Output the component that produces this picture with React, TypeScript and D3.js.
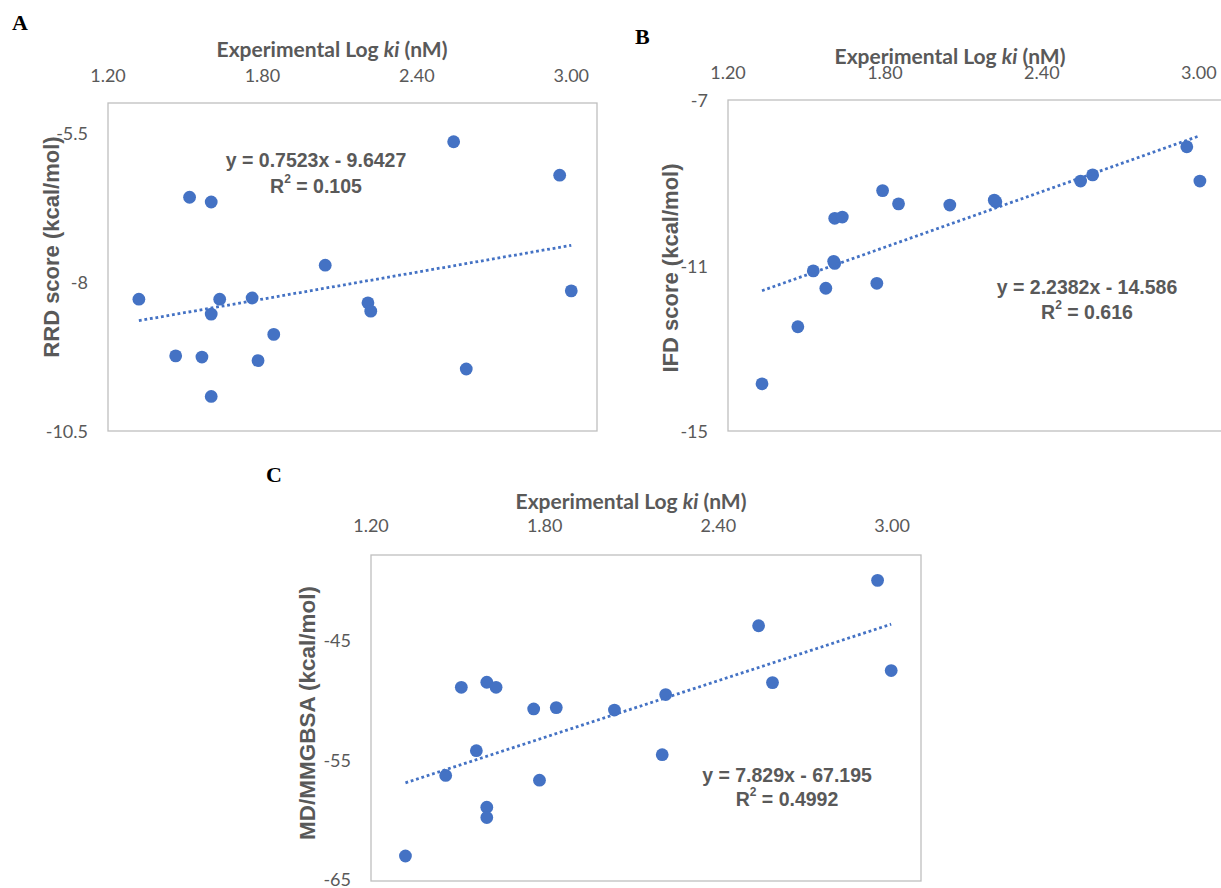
import React from 'react';
import * as d3 from 'd3';

// x values (Experimental Log ki, nM) read per panel
const xTicks = [1.2, 1.8, 2.4, 3.0];

const rrdX = [1.32, 1.463, 1.517, 1.565, 1.601, 1.601, 1.601, 1.634, 1.76, 1.783, 1.844, 2.044, 2.21, 2.221, 2.543, 2.592, 2.955, 3.0];
const rrdY = [-8.29, -9.24, -6.58, -9.26, -6.66, -8.54, -9.92, -8.29, -8.27, -9.32, -8.88, -7.72, -8.35, -8.49, -5.65, -9.46, -6.21, -8.15];
const rrdTicks = [-10.5, -8, -5.5];
const rrdFit = [0.7523, -9.6427];

const ifdX = [1.33, 1.467, 1.526, 1.574, 1.608, 1.608, 1.604, 1.637, 1.769, 1.791, 1.852, 2.048, 2.218, 2.224, 2.548, 2.594, 2.954, 3.004];
const ifdY = [-13.86, -12.48, -11.13, -11.55, -9.86, -10.95, -10.9, -9.83, -11.43, -9.19, -9.51, -9.54, -9.42, -9.46, -8.96, -8.81, -8.13, -8.96];
const ifdTicks = [-15, -11, -7];
const ifdFit = [2.2382, -14.586];

const mdX = [1.319, 1.458, 1.512, 1.564, 1.6, 1.6, 1.6, 1.632, 1.762, 1.782, 1.84, 2.041, 2.206, 2.218, 2.539, 2.587, 2.95, 2.997];
const mdY = [-62.93, -56.26, -48.96, -54.21, -48.54, -58.89, -59.74, -48.96, -50.75, -56.65, -50.64, -50.84, -54.54, -49.56, -43.86, -48.57, -40.1, -47.57];
const mdTicks = [-65, -55, -45];
const mdFit = [7.829, -67.195];

const BLUE = '#4472C4';
const GRAY = '#595959';
const tickFont = 'Lato, "Open Sans", sans-serif';
const labelFont = '"Liberation Sans", Arial, sans-serif';

const panels = [
  {
    letter: 'A', letterX: 12, letterY: 30,
    left: 108, right: 597, top: 103, bottom: 431,
    yDomain: [-10.5, -5], yTicks: rrdTicks, xs: rrdX, ys: rrdY, fit: rrdFit,
    eq: 'y = 0.7523x - 9.6427', r2: '0.105', eqX: 316, eqY: 160, r2Y: 186,
    yLabel: 'RRD score (kcal/mol)', yLabelX: 51, yLabelY: 247, yLabelSize: 22,
    titleX: 332, titleY: 48, tickY: 75,
  },
  {
    letter: 'B', letterX: 635, letterY: 44,
    left: 728, right: 1225, top: 100, bottom: 431,
    yDomain: [-15, -7], yTicks: ifdTicks, xs: ifdX, ys: ifdY, fit: ifdFit,
    eq: 'y = 2.2382x - 14.586', r2: '0.616', eqX: 1087, eqY: 287, r2Y: 312,
    yLabel: 'IFD score (kcal/mol)', yLabelX: 670, yLabelY: 268, yLabelSize: 22,
    titleX: 950, titleY: 55, tickY: 72,
  },
  {
    letter: 'C', letterX: 266, letterY: 482,
    left: 371, right: 921, top: 555, bottom: 881,
    yDomain: [-65, -38], yTicks: mdTicks, xs: mdX, ys: mdY, fit: mdFit,
    eq: 'y = 7.829x - 67.195', r2: '0.4992', eqX: 787, eqY: 775, r2Y: 799,
    yLabel: 'MD/MMGBSA (kcal/mol)', yLabelX: 307, yLabelY: 713, yLabelSize: 22.5,
    titleX: 631, titleY: 500, tickY: 525,
  },
];

const Panel = ({ p }: { p: any }) => {
  const x = d3.scaleLinear().domain([1.2, 3.1]).range([p.left, p.right]);
  const y = d3.scaleLinear().domain(p.yDomain).range([p.bottom, p.top]);
  const x0 = d3.min(p.xs) as number;
  const x1 = d3.max(p.xs) as number;
  const fitLine = d3.line<number>()
    .x(d => x(d))
    .y(d => y(p.fit[0] * d + p.fit[1]));

  return (
    <g>
      <text x={p.letterX} y={p.letterY} fontFamily='"Liberation Serif", "Times New Roman", serif'
        fontWeight="bold" fontSize={22} fill="#000">{p.letter}</text>

      <text x={p.titleX} y={p.titleY} textAnchor="middle" dominantBaseline="central"
        fontFamily={tickFont} fontWeight="bold" fontSize={21} fill={GRAY}>
        Experimental Log <tspan fontStyle="italic">ki</tspan> (nM)
      </text>

      {xTicks.map(t => (
        <text key={t} x={x(t)} y={p.tickY} textAnchor="middle" dominantBaseline="central"
          fontFamily={tickFont} fontSize={18} fill={GRAY}>{d3.format('.2f')(t)}</text>
      ))}

      {p.yTicks.map((t: number) => (
        <text key={t} x={p.left - 20} y={Math.min(y(t), 879)} textAnchor="end" dominantBaseline="central"
          fontFamily={tickFont} fontSize={18} fill={GRAY}>{t}</text>
      ))}

      <rect x={p.left} y={p.top} width={p.right - p.left} height={p.bottom - p.top}
        fill="none" stroke="#BFBFBF" strokeWidth={1.3} />

      <text transform={`translate(${p.yLabelX},${p.yLabelY}) rotate(-90)`} textAnchor="middle"
        dominantBaseline="central" fontFamily={labelFont} fontWeight="bold" fontSize={p.yLabelSize} fill={GRAY}>
        {p.yLabel}
      </text>

      {p.xs.map((v: number, i: number) => (
        <circle key={i} cx={x(v)} cy={y(p.ys[i])} r={6.4} fill={BLUE} />
      ))}

      <path d={fitLine([x0, x1]) || ''} fill="none" stroke={BLUE} strokeWidth={2.8}
        strokeDasharray="2.8 2.8" />

      <text x={p.eqX} y={p.eqY} textAnchor="middle" dominantBaseline="central"
        fontFamily={labelFont} fontWeight="bold" fontSize={19.5} fill={GRAY}>{p.eq}</text>
      <text x={p.eqX} y={p.r2Y} textAnchor="middle" dominantBaseline="central"
        fontFamily={labelFont} fontWeight="bold" fontSize={19.5} fill={GRAY}>
        R<tspan fontSize={12} dy={-7}>2</tspan><tspan dy={7}> = {p.r2}</tspan>
      </text>
    </g>
  );
};

export default function App() {
  return (
    <svg width={1221} height={888} style={{ position: 'absolute', left: 0, top: 0, background: '#fff' }}>
      <rect width={1221} height={888} fill="#fff" />
      {panels.map(p => <Panel key={p.letter} p={p} />)}
    </svg>
  );
}
